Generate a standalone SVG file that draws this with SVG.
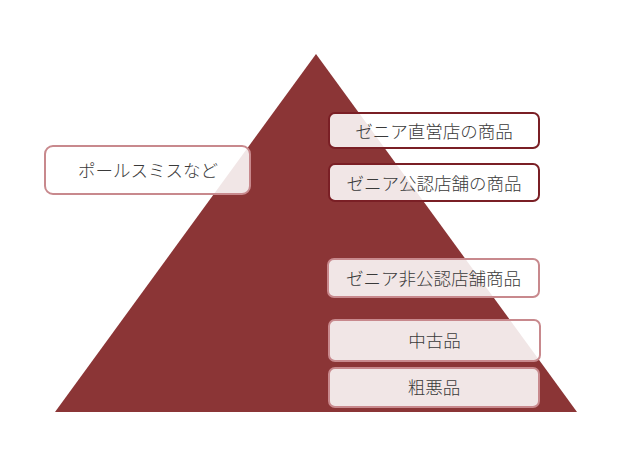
<svg xmlns="http://www.w3.org/2000/svg" width="640" height="450" viewBox="0 0 640 450">
<style>
.box{fill:#ffffff;fill-opacity:0.88;stroke-width:2}
.dark{stroke:#7a1f25}
.light{stroke:#c8898d}
.t{font-family:"Noto Sans CJK JP","Noto Sans CJK SC",sans-serif;font-size:17.5px;font-weight:300;fill:#3a3a3a;text-anchor:middle;dominant-baseline:central}
</style>
<rect width="640" height="450" fill="#ffffff"/>
<g id="pyramid"><polygon points="316,54 577,412 55,412" fill="#8b3536"/></g>
<g id="connectors"></g>
<g id="node-direct"><rect class="box dark" x="329" y="113" width="210" height="35" rx="6"/><text class="t" x="434" y="130">ゼニア直営店の商品</text></g>
<g id="node-authorized"><rect class="box dark" x="329" y="164" width="210" height="37" rx="6"/><text class="t" x="434" y="182">ゼニア公認店舗の商品</text></g>
<g id="node-paulsmith"><rect class="box light" x="45" y="146" width="205" height="48" rx="8"/><text class="t" x="148" y="169">ポールスミスなど</text></g>
<g id="node-unauthorized"><rect class="box light" x="328" y="259" width="211" height="38" rx="6"/><text class="t" x="433.5" y="277">ゼニア非公認店舗商品</text></g>
<g id="node-used"><rect class="box light" x="329" y="320" width="211" height="41" rx="6"/><text class="t" x="434.5" y="339.5">中古品</text></g>
<g id="node-fake"><rect class="box light" x="329" y="368" width="210" height="39" rx="6"/><text class="t" x="434" y="386">粗悪品</text></g>
</svg>
